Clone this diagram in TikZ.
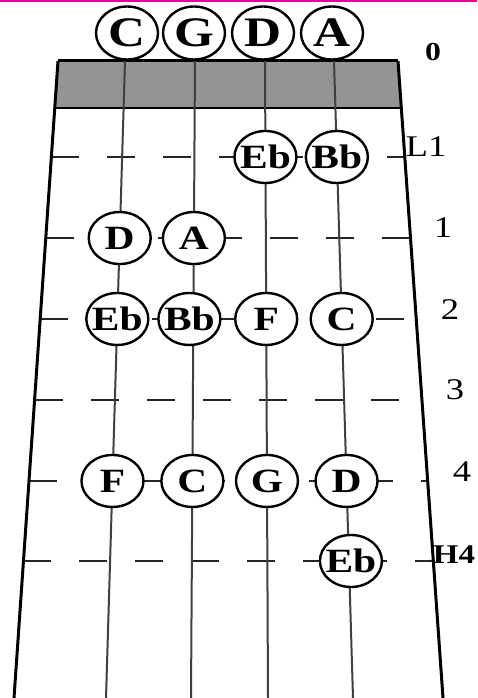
\documentclass[tikz,border=0pt]{standalone}
\usepackage{fontspec}
\setmainfont{Liberation Serif}[FakeStretch=1.22]
\usetikzlibrary{calc,shapes.geometric}

\begin{document}
\begin{tikzpicture}
    [x=1pt, y=-1pt,
    edge/.style={draw=black, line width=3pt},
    string/.style={draw=black!75, line width=2pt},
    fret/.style={draw=black!85, line width=2pt, dash pattern=on 28pt off 28pt},
    note/.style={ellipse, draw=black, line width=2.4pt, fill=white,
        inner xsep=-6pt, inner ysep=-2pt,
        minimum width=62pt, minimum height=52pt,
        font=\bfseries\fontsize{34}{38}\selectfont},
    opennote/.style={note, minimum height=53pt, font=\bfseries\fontsize{42}{46}\selectfont},
    poslabel/.style={font=\fontsize{30}{34}\selectfont}]
    \useasboundingbox (0,0) rectangle (477,698);
    \fill[magenta] (0,0) rectangle (477,1.6);

    % fingerboard edges and strings
    \coordinate (eLt) at (58,61);   \coordinate (eLb) at (14,698);
    \coordinate (eRt) at (398,61);  \coordinate (eRb) at (443,698);
    \coordinate (sCt) at (125,61);  \coordinate (sCb) at (106,698);
    \coordinate (sGt) at (195,61);  \coordinate (sGb) at (191,698);
    \coordinate (sDt) at (265,61);  \coordinate (sDb) at (268,698);
    \coordinate (sAt) at (334,61);  \coordinate (sAb) at (353,698);

    % nut
    \fill[black!42] (eLt) -- (eRt) -- ($(eRt)!0.0738!(eRb)$) -- ($(eLt)!0.0738!(eLb)$) -- cycle;
    \draw[line width=2pt] ($(eLt)!0.0738!(eLb)$) -- ($(eRt)!0.0738!(eRb)$);
    \draw[line width=3pt] (eLt) -- (eRt);

    % finger positions
    \foreach \row/\t in {L1/0.1507, 1/0.2779, 2/0.4050, 3/0.5322, 4/0.6593, H4/0.7849} {
        \coordinate (f\row l) at ($(eLt)!\t!(eLb)$);
        \coordinate (f\row r) at ($(eRt)!\t!(eRb)$);
        \draw[fret] (f\row l) -- (f\row r);
    }

    \draw[string] (sCt) -- (sCb);
    \draw[string] (sGt) -- (sGb);
    \draw[string] (sDt) -- (sDb);
    \draw[string] (sAt) -- (sAb);
    \draw[edge] (eLt) -- (eLb);
    \draw[edge] (eRt) -- (eRb);

    % open strings
    \node[opennote] (openC) at (127,33) {C};
    \node[opennote] (openG) at (194,33) {G};
    \node[opennote] (openD) at (263,33) {D};
    \node[opennote] (openA) at (332,33) {A};

    % L1
    \node[note] (lowEb) at ($(sDt)!0.1507!(sDb)$) {Eb};
    \node[note] (lowBb) at ($(sAt)!0.1507!(sAb)$) {Bb};
    % 1
    \node[note] (oneD) at ($(sCt)!0.2779!(sCb)$) {D};
    \node[note] (oneA) at ($(sGt)!0.2779!(sGb)$) {A};
    % 2
    \node[note] (twoEb) at ($(sCt)!0.4050!(sCb)$) {Eb};
    \node[note] (twoBb) at ($(sGt)!0.4050!(sGb)+(-4,0)$) {Bb};
    \node[note] (twoF) at ($(sDt)!0.4050!(sDb)$) {F};
    \node[note] (twoC) at ($(sAt)!0.4050!(sAb)$) {C};
    % 4
    \node[note] (fourF) at ($(sCt)!0.6593!(sCb)$) {F};
    \node[note] (fourC) at ($(sGt)!0.6593!(sGb)$) {C};
    \node[note] (fourG) at ($(sDt)!0.6593!(sDb)$) {G};
    \node[note] (fourD) at ($(sAt)!0.6593!(sAb)$) {D};
    % H4
    \node[note] (highEb) at ($(sAt)!0.7849!(sAb)+(2,0)$) {Eb};

    % position labels
    \node[poslabel, font=\bfseries\fontsize{26}{30}\selectfont] (lab0) at (433,52) {0};
    \node[poslabel] (labL1) at (426,147) {L1};
    \node[poslabel] (lab1) at (443,228) {1};
    \node[poslabel] (lab2) at (450,310) {2};
    \node[poslabel] (lab3) at (455,390) {3};
    \node[poslabel] (lab4) at (462,472) {4};
    \node[poslabel, font=\bfseries\fontsize{27}{30}\selectfont] (labH4) at (454,555) {H4};
\end{tikzpicture}
\end{document}
